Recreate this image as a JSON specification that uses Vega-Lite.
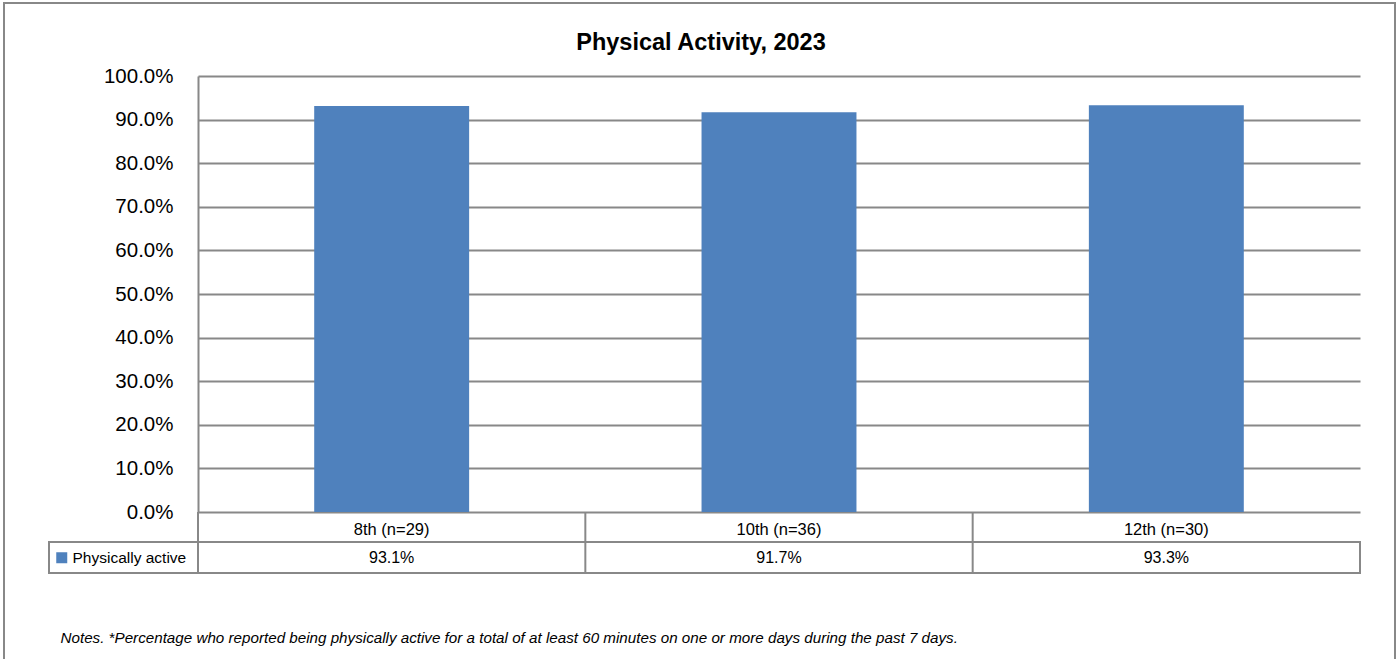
{
  "$schema": "https://vega.github.io/schema/vega-lite/v6.json",
  "width": 1162,
  "height": 436,
  "autosize": {"type": "none"},
  "padding": {"left": 198, "top": 76, "right": 37, "bottom": 147},
  "background": "white",
  "config": {
    "view": {"stroke": null},
    "font": "Liberation Sans",
    "legend": {
      "orient": "none",
      "legendX": -144,
      "legendY": 474,
      "symbolType": "square",
      "symbolSize": 121,
      "symbolStrokeWidth": 0,
      "labelFontSize": 15.5,
      "labelColor": "#000000",
      "labelFont": "Liberation Sans",
      "labelOffset": 3,
      "padding": 0
    }
  },
  "title": {
    "text": "Physical Activity, 2023",
    "font": "Liberation Sans",
    "fontSize": 23.5,
    "fontWeight": "bold",
    "color": "#000000",
    "anchor": "middle",
    "frame": "group",
    "dx": -78,
    "offset": -71,
    "baseline": "alphabetic"
  },
  "data": {
    "values": [
      {"grade": "8th (n=29)", "pct": 0.931, "series": "Physically active"},
      {"grade": "10th (n=36)", "pct": 0.917, "series": "Physically active"},
      {"grade": "12th (n=30)", "pct": 0.933, "series": "Physically active"}
    ]
  },
  "layer": [
    {
      "mark": {"type": "bar", "width": {"band": 0.4}, "color": "#4F81BD"},
      "encoding": {
        "x": {
          "field": "grade",
          "type": "nominal",
          "sort": null,
          "scale": {"paddingInner": 0, "paddingOuter": 0},
          "axis": {
            "orient": "bottom",
            "domain": false,
            "ticks": false,
            "labelAngle": 0,
            "labelFontSize": 16.5,
            "labelColor": "#000000",
            "labelPadding": 9,
            "labelFont": "Liberation Sans",
            "title": "Notes. *Percentage who reported being physically active for a total of at least 60 minutes on one or more days during the past 7 days.",
            "titleFont": "Liberation Sans",
            "titleFontSize": 15.2,
            "titleFontStyle": "italic",
            "titleFontWeight": "normal",
            "titleColor": "#000000",
            "titleX": -138,
            "titleY": 130,
            "titleAlign": "left",
            "titleAnchor": "start",
            "titleBaseline": "alphabetic"
          }
        },
        "y": {
          "field": "pct",
          "type": "quantitative",
          "scale": {"domain": [0, 1], "nice": false},
          "axis": {
            "title": null,
            "format": ".1%",
            "values": [0, 0.1, 0.2, 0.3, 0.4, 0.5, 0.6, 0.7, 0.8, 0.9, 1],
            "ticks": false,
            "domain": true,
            "domainColor": "#888888",
            "domainWidth": 2,
            "grid": true,
            "gridColor": "#888888",
            "gridWidth": 2,
            "labelFontSize": 20.5,
            "labelColor": "#000000",
            "labelFont": "Liberation Sans",
            "labelPadding": 25
          }
        },
        "color": {
          "field": "series",
          "type": "nominal",
          "scale": {"range": ["#4F81BD"]},
          "legend": {"title": null}
        }
      }
    },
    {
      "mark": {"type": "text", "fontSize": 16, "color": "#000000", "baseline": "middle", "align": "center", "dy": 46, "font": "Liberation Sans"},
      "encoding": {
        "x": {"field": "grade", "type": "nominal", "sort": null},
        "y": {"datum": 0},
        "text": {"field": "pct", "type": "quantitative", "format": ".1%"}
      }
    },
    {
      "mark": {"type": "rule", "color": "#888888", "strokeWidth": 2},
      "encoding": {
        "x": {"field": "grade", "type": "nominal", "sort": null, "bandPosition": 0},
        "y": {"value": 436},
        "y2": {"value": 497}
      }
    },
    {
      "data": {"values": [{}]},
      "mark": {"type": "rect", "fill": null, "stroke": "#888888", "strokeWidth": 2, "x": -149, "x2": 1162, "y": 466, "y2": 497},
      "encoding": {}
    },
    {
      "data": {"values": [{}]},
      "mark": {"type": "rule", "color": "#888888", "strokeWidth": 2, "x": 1162, "y": 436, "y2": 497},
      "encoding": {}
    },
    {
      "data": {"values": [{}]},
      "mark": {"type": "rect", "fill": null, "stroke": "#888888", "strokeWidth": 2, "x": -194, "x2": 1197, "y": -73, "y2": 600},
      "encoding": {}
    }
  ]
}
